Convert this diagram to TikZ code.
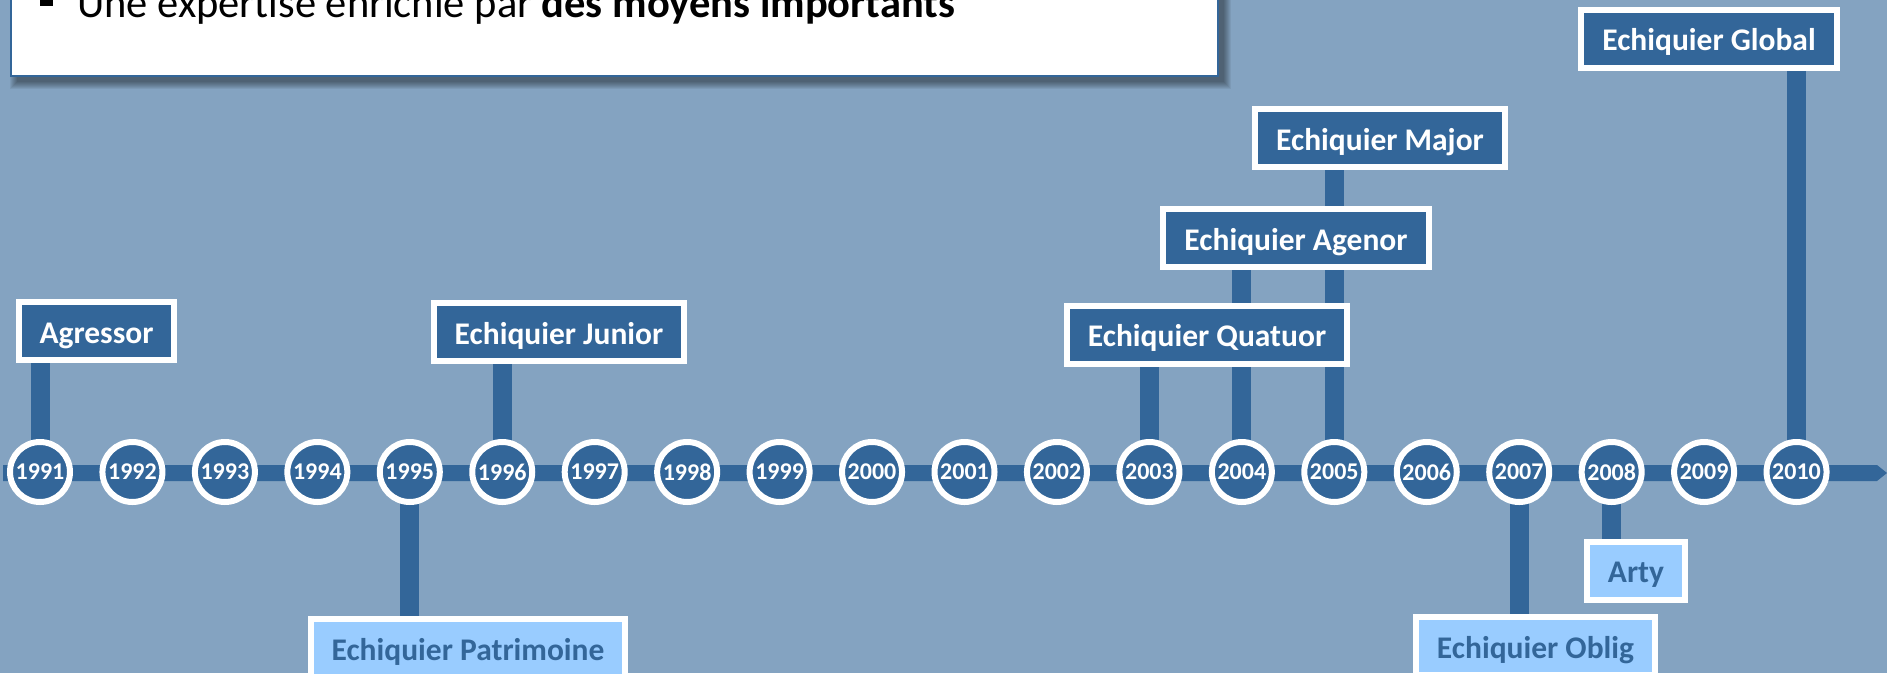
\documentclass[tikz,border=0pt]{standalone}
\usepackage{fontspec}
\setmainfont{Carlito}
\definecolor{tlback}{HTML}{84A3C1}
\definecolor{tlblue}{HTML}{336699}
\definecolor{tllight}{HTML}{99CCFF}
\pgfdeclarelayer{background}
\pgfsetlayers{background,main}
\tikzset{yearnode/.style={circle, draw=white, line width=6pt, fill=tlblue, text=white,
      minimum size=60pt, inner sep=0pt, font=\fontsize{24}{27}\selectfont\bfseries}}
\tikzset{prodbox/.style={rectangle, draw=white, line width=6pt, fill=tlblue, text=white,
      minimum height=58pt, inner xsep=21pt, inner ysep=0pt, text height=24pt, text depth=0pt,
      font=\fontsize{31.5}{36}\selectfont\bfseries}}
\tikzset{newbox/.style={prodbox, fill=tllight, text=tlblue}}
\tikzset{stem/.style={draw=tlblue, line width=19pt}}

\begin{document}
\begin{tikzpicture}[x=1pt,y=-1pt]
    \useasboundingbox (0,0) rectangle (1887,673);
    \clip (0,0) rectangle (1887,673);
    \begin{pgfonlayer}{background}
      \fill[tlback] (0,0) rectangle (1887,673);
      \fill[tlblue] (3,465) -- (1877,465) -- (1887,473) -- (1877,481) -- (3,481) -- cycle;
    \end{pgfonlayer}

    % text box at the top, cut by the frame
    \foreach \s in {0,...,7}
      \fill[black, opacity=0.06] (17-\s,-20) rectangle (1224+\s,82+\s);
    \draw[tlblue, line width=2pt, fill=white] (11,-20) rectangle (1218,76);
    \fill[black] (40,-7) rectangle (53,6);
    \node[anchor=base west, inner sep=0pt, font=\fontsize{42.5}{50}\selectfont] (slogan) at (77,17)
      {Une expertise enrichie par \textbf{des moyens importants}};

    % years
    \foreach \yr [count=\i from 0] in {1991,...,2010}
      \node[yearnode] (y\yr) at ({40+\i*92.45},472) {\yr};

    % funds
    \node[prodbox] (agressor) at (96.5,331) {Agressor};
    \node[prodbox] (junior) at (559,332) {Echiquier Junior};
    \node[prodbox] (quatuor) at (1207,334.5) {Echiquier Quatuor};
    \node[prodbox] (agenor) at (1296,238) {Echiquier Agenor};
    \node[prodbox] (major) at (1380,138) {Echiquier Major};
    \node[prodbox] (global) at (1709,38.5) {Echiquier Global};
    \node[newbox] (patrimoine) at (468,648) {Echiquier Patrimoine};
    \node[newbox] (oblig) at (1535.5,646) {Echiquier Oblig};
    \node[newbox] (arty) at (1636,570.5) {Arty};

    \begin{pgfonlayer}{background}
      \draw[stem] (y1991.center) -- (y1991 |- agressor.south);
      \draw[stem] (y1996.center) -- (y1996 |- junior.south);
      \draw[stem] (y2003.center) -- (y2003 |- quatuor.south);
      \draw[stem] (y2004.center) -- (y2004 |- agenor.south);
      \draw[stem] (y2005.center) -- (y2005 |- major.south);
      \draw[stem] (y2010.center) -- (y2010 |- global.south);
      \draw[stem] (y1995.center) -- (y1995 |- patrimoine.north);
      \draw[stem] (y2007.center) -- (y2007 |- oblig.north);
      \draw[stem] (y2008.center) -- (y2008 |- arty.north);
    \end{pgfonlayer}
\end{tikzpicture}
\end{document}
